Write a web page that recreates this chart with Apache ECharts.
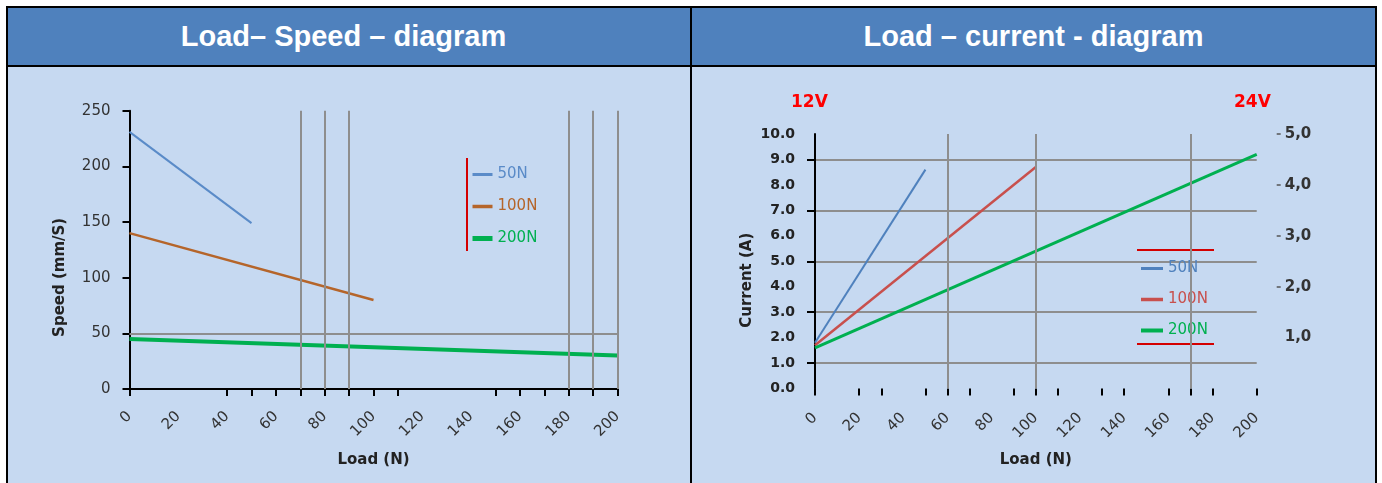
<!DOCTYPE html>
<html>
<head>
<meta charset="utf-8">
<script src="https://cdn.jsdelivr.net/npm/echarts@6/dist/echarts.min.js"></script>
<style>
html,body{margin:0;padding:0;background:#ffffff;width:1382px;height:483px;overflow:hidden}
.abs{position:absolute}
.hdrtxt{position:absolute;top:8px;height:57px;line-height:57px;color:#ffffff;font-family:'Liberation Sans',Arial,sans-serif;font-weight:bold;font-size:29px;text-align:center;white-space:nowrap}
</style>
</head>
<body>
<div class="abs" style="left:8px;top:8px;width:1367px;height:57px;background:#4F81BD"></div>
<div class="abs" style="left:8px;top:67px;width:1367px;height:416px;background:#C6D9F1"></div>
<div class="abs" style="left:6px;top:6px;width:1371px;height:2px;background:#000"></div>
<div class="abs" style="left:6px;top:65px;width:1371px;height:2px;background:#000"></div>
<div class="abs" style="left:6px;top:6px;width:2px;height:477px;background:#000"></div>
<div class="abs" style="left:1375px;top:6px;width:2px;height:477px;background:#000"></div>
<div class="abs" style="left:690px;top:6px;width:2px;height:477px;background:#000"></div>
<div class="hdrtxt" style="left:8px;width:671px">Load– Speed – diagram</div>
<div class="hdrtxt" style="left:692px;width:683px">Load – current - diagram</div>
<div id="chart" class="abs" style="left:0;top:0;width:1382px;height:483px"></div>
<script>
// ---------- data ----------
const seriesNames = ['50N', '100N', '200N'];
const loadSlots = [0, 10, 20, 30, 40, 50, 60, 70, 80, 90, 100, 110, 120, 130, 140, 150, 160, 170, 180, 190, 200];

// Load - Speed diagram
const speed50N = [[0, 231], [50, 149]];
const speed100N = [[0, 140], [100, 80]];
const speed200N = [[0, 45], [200, 30]];
const speedTickLoads = [0, 40, 50, 60, 70, 80, 90, 100, 110, 150, 160, 170, 180, 190, 200];
const speedGuideLoads = [70, 80, 90, 180, 190, 200];
const speedGuideSpeeds = [50];

// Load - current diagram
const current50N = [[0, 1.8], [50, 8.6]];
const current100N = [[0, 1.7], [100, 8.7]];
const current200N = [[0, 1.6], [200, 9.2]];
const currentTickLoads = [0, 20, 30, 50, 60, 70, 90, 100, 110, 130, 140, 160, 170, 180, 200];
const currentGuideLoads = [60, 100, 170];
const current24VLabels = [1, 2, 3, 4, 5];
const current24VTicks = [2, 3, 4, 5];
const voltageLabels = ['12V', '24V'];

// ---------- styles ----------
const speedColors = ['#5A8BC8', '#B5652A', '#00B050'];
const speedWidths = [2, 2.5, 4];
const currentColors = ['#4F81BD', '#C8504D', '#00B050'];
const currentWidths = [2, 2.5, 3];
const GUIDE = '#8E8E8E';
const FONT = 'DejaVu Sans';

const chart = echarts.init(document.getElementById('chart'), null, {renderer: 'canvas'});

const nameStyle = {fontFamily: FONT, fontWeight: 'bold', fontSize: 15, color: '#222'};

function tickAxis(gridIndex, ticks) {
  return {
    gridIndex, type: 'category', position: 'bottom', boundaryGap: false,
    data: loadSlots.map(String),
    axisLine: {show: false}, axisLabel: {show: false}, splitLine: {show: false},
    axisTick: {show: true, length: 7, lineStyle: {color: '#000', width: 2},
      interval: (i, v) => ticks.indexOf(Number(v)) >= 0}
  };
}

const option = {
  animation: false,
  backgroundColor: 'transparent',
  title: [
    {text: voltageLabels[0], left: 791, top: 94, padding: 0,
     textStyle: {color: '#FF0000', fontFamily: FONT, fontWeight: 'bold', fontSize: 17}},
    {text: voltageLabels[1], left: 1234, top: 94, padding: 0,
     textStyle: {color: '#FF0000', fontFamily: FONT, fontWeight: 'bold', fontSize: 17}}
  ],
  grid: [
    {left: 129.5, top: 110.7, width: 488, height: 278.3, outerBoundsMode: 'none'},
    {left: 815, top: 134, width: 441.7, height: 254.5, outerBoundsMode: 'none'}
  ],
  xAxis: [
    {gridIndex: 0, type: 'value', position: 'bottom', min: 0, max: 200, interval: 20,
     axisLine: {show: true, lineStyle: {color: '#000', width: 2}},
     axisTick: {show: false}, splitLine: {show: false},
     axisLabel: {rotate: 45, margin: 25, fontSize: 15, color: '#333', fontFamily: FONT},
     name: 'Load (N)', nameLocation: 'middle', nameGap: 64, nameTextStyle: nameStyle},
    tickAxis(0, speedTickLoads),
    {gridIndex: 1, type: 'value', position: 'bottom', min: 0, max: 200, interval: 20,
     axisLine: {show: false}, axisTick: {show: false}, splitLine: {show: false},
     axisLabel: {rotate: 45, margin: 27, fontSize: 15, color: '#333', fontFamily: FONT},
     name: 'Load (N)', nameLocation: 'middle', nameGap: 64, nameTextStyle: nameStyle},
    tickAxis(1, currentTickLoads)
  ],
  yAxis: [
    {gridIndex: 0, type: 'value', position: 'left', min: 0, max: 250, interval: 50,
     axisLine: {show: true, lineStyle: {color: '#000', width: 2}},
     axisTick: {show: true, length: 7, lineStyle: {color: '#000', width: 2}},
     splitLine: {show: false},
     axisLabel: {margin: 19, fontSize: 15, color: '#333', fontFamily: FONT},
     name: 'Speed (mm/S)', nameLocation: 'middle', nameGap: 62,
     nameTextStyle: Object.assign({}, nameStyle, {padding: [0, 55, 0, 0]})},
    {gridIndex: 1, type: 'value', position: 'left', min: 0, max: 10, interval: 1,
     axisLine: {show: true, lineStyle: {color: '#000', width: 2}},
     axisTick: {show: false}, splitLine: {show: false},
     axisLabel: {margin: 20, fontSize: 14, fontWeight: 'bold', color: '#222', fontFamily: FONT,
       formatter: v => v.toFixed(1)},
     name: 'Current (A)', nameLocation: 'middle', nameGap: 60,
     nameTextStyle: Object.assign({}, nameStyle, {padding: [0, 38, 0, 0]})},
    {gridIndex: 1, type: 'value', position: 'left', min: 0, max: 10, interval: 2,
     axisLine: {show: false}, axisTick: {show: false}, axisLabel: {show: false},
     splitLine: {show: false},
     minorTick: {show: true, splitNumber: 2, length: 8, lineStyle: {color: '#000', width: 2}},
     minorSplitLine: {show: true, lineStyle: {color: GUIDE, width: 2}}},
    {gridIndex: 1, type: 'value', position: 'right', offset: 20, min: 0, max: 5, interval: 1,
     axisLine: {show: false},
     axisTick: {show: true, length: 4, customValues: current24VTicks, lineStyle: {color: '#555', width: 1.5}},
     splitLine: {show: false},
     axisLabel: {margin: 8, fontSize: 15, fontWeight: 'bold', color: '#333', fontFamily: FONT,
       customValues: current24VLabels,
       formatter: v => v.toFixed(1).replace('.', ',')}}
  ],
  legend: [
    {orient: 'vertical', left: 470, top: 167, itemWidth: 20, itemHeight: 18, itemGap: 17,
     padding: 0, selectedMode: false,
     textStyle: {fontFamily: FONT, fontSize: 15},
     data: seriesNames.map((n, i) => ({name: n, textStyle: {color: speedColors[i]},
       itemStyle: {opacity: 0},
       lineStyle: {color: speedColors[i], width: speedWidths[i] + 1}}))},
    {orient: 'vertical', left: 1139, top: 261, itemWidth: 22, itemHeight: 18, itemGap: 16,
     padding: 0, selectedMode: false,
     textStyle: {fontFamily: FONT, fontSize: 15},
     data: seriesNames.map((n, i) => ({name: n, textStyle: {color: currentColors[i]},
       itemStyle: {opacity: 0},
       lineStyle: {color: currentColors[i], width: currentWidths[i] + 1}}))}
  ],
  graphic: [
    {type: 'line', silent: true, shape: {x1: 467, y1: 158, x2: 467, y2: 251},
     style: {stroke: '#D40000', lineWidth: 2}},
    {type: 'line', silent: true, shape: {x1: 1137, y1: 250, x2: 1214, y2: 250},
     style: {stroke: '#D40000', lineWidth: 2}},
    {type: 'line', silent: true, shape: {x1: 1137, y1: 344, x2: 1214, y2: 344},
     style: {stroke: '#D40000', lineWidth: 2}}
  ],
  series: [
    {type: 'line', name: 'speedGuides', xAxisIndex: 0, yAxisIndex: 0, data: [], z: 1,
     markLine: {silent: true, symbol: ['none', 'none'], label: {show: false},
       lineStyle: {color: GUIDE, width: 2, type: 'solid'},
       data: speedGuideLoads.map(x => ({xAxis: x})).concat(speedGuideSpeeds.map(y => ({yAxis: y})))}},
    {type: 'line', name: 'currentGuides', xAxisIndex: 2, yAxisIndex: 1, data: [], z: 1,
     markLine: {silent: true, symbol: ['none', 'none'], label: {show: false},
       lineStyle: {color: GUIDE, width: 2, type: 'solid'},
       data: currentGuideLoads.map(x => ({xAxis: x}))}},
    ...[speed50N, speed100N, speed200N].map((d, i) => ({
      type: 'line', name: seriesNames[i], xAxisIndex: 0, yAxisIndex: 0, data: d, z: 3,
      symbol: 'none', lineStyle: {color: speedColors[i], width: speedWidths[i]},
      itemStyle: {color: speedColors[i]}
    })),
    ...[current50N, current100N, current200N].map((d, i) => ({
      type: 'line', name: seriesNames[i], xAxisIndex: 2, yAxisIndex: 1, data: d, z: 3,
      symbol: 'none', lineStyle: {color: currentColors[i], width: currentWidths[i]},
      itemStyle: {color: currentColors[i]}
    }))
  ]
};
chart.setOption(option);
</script>
</body>
</html>
